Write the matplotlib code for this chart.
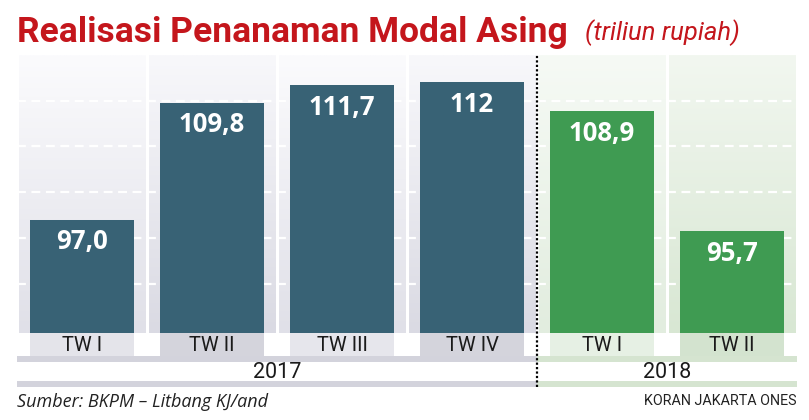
import numpy as np
import matplotlib
matplotlib.use("Agg")
import matplotlib.pyplot as plt
from matplotlib.patches import Rectangle
from matplotlib.lines import Line2D
from matplotlib.colors import LinearSegmentedColormap
from matplotlib.transforms import blended_transform_factory

# data
quarters = ["TW I", "TW II", "TW III", "TW IV", "TW I", "TW II"]
values = [97.0, 109.8, 111.7, 112.0, 108.9, 95.7]
value_labels = ["97,0", "109,8", "111,7", "112", "108,9", "95,7"]
years = ["2017", "2018"]
year_counts = [4, 2]

W, H = 809, 420
fig = plt.figure(figsize=(W / 100, H / 100), dpi=100)
fig.patch.set_facecolor("white")
renderer = fig.canvas.get_renderer()

def px_box(x0, y0, x1, y1):
    # pixel box (top-left origin) -> figure fraction
    return [x0 / W, 1 - y1 / H, (x1 - x0) / W, (y1 - y0) / H]

def fit_width(t, width_px):
    # scale font so the text is about width_px wide (no condensed fonts here)
    w = t.get_window_extent(renderer).width
    t.set_fontsize(t.get_fontsize() * width_px / w)

ymin, ymax = 84.6, 115
ax = fig.add_axes(px_box(17, 55, 797, 333))
ax.set_xlim(-0.5, 5.5)
ax.set_ylim(ymin, ymax)
ax.axis("off")

n = len(values)
is2018 = [i >= year_counts[0] for i in range(n)]

# panel backgrounds with vertical gradient
panel_cols = [("#FBFBFD", "#E0E0E8"), ("#F8F8FB", "#DADAE3"),
              ("#FBFBFD", "#E0E0E8"), ("#F8F8FB", "#DADAE3"),
              ("#F6FAF5", "#E2EDDF"), ("#F2F7F0", "#D8E7D3")]
grad = np.linspace(0, 1, 100).reshape(-1, 1)
for i in range(n):
    cmap = LinearSegmentedColormap.from_list("g", [panel_cols[i][0], panel_cols[i][1]])
    ax.imshow(grad, cmap=cmap, aspect="auto", origin="upper",
              extent=[i - 0.488, i + 0.488, ymin, ymax], zorder=0)

# white dashed gridlines
for g in [90, 95, 100, 105, 110]:
    ax.axhline(g, color="white", lw=1.6, ls=(0, (4, 2.5)), zorder=1)

bar_colors = ["#386275" if not y else "#3F9B52" for y in is2018]
x = np.arange(n)
ax.bar(x, np.array(values) - ymin, bottom=ymin, width=0.805,
       color=bar_colors, zorder=2)

for xi, v, lab in zip(x, values, value_labels):
    ax.annotate(lab, (xi, v), xytext=(0, -16), textcoords="offset points",
                ha="center", va="center", color="white", fontsize=18.5,
                fontweight="bold", family="Open Sans", zorder=3)

# bottom strip: category labels and years
ax2 = fig.add_axes(px_box(17, 333, 797, 390), sharex=ax)
ax2.set_ylim(390, 333)
ax2.axis("off")

label_cols = ["#E4E4EA", "#D4D4DC", "#E6E6EC", "#D4D4DC", "#E6F0E4", "#D3E3CF"]
for i in range(n):
    ax2.add_patch(Rectangle((i - 0.4025, 333), 0.805, 23, color=label_cols[i], lw=0))
    ax2.text(i, 345.5, quarters[i], ha="center", va="center", fontsize=14.5,
             family="Roboto", color="#1a1a1a")

band_cols = ["#D3D3DC", "#D5E4D0"]
start = -0.5
for yr, cnt, bc in zip(years, year_counts, band_cols):
    end = start + cnt
    ax2.add_patch(Rectangle((start, 356), cnt, 6, color=bc, lw=0))
    ax2.add_patch(Rectangle((start, 381), cnt, 6, color=bc, lw=0))
    ax2.text((start + end) / 2, 372.5, yr, ha="center", va="center", fontsize=15.5,
             family="Roboto", color="#1a1a1a")
    start = end

# dotted divider between years
tr = blended_transform_factory(ax.transData, fig.transFigure)
fig.add_artist(Line2D([year_counts[0] - 0.5] * 2, [1 - 387 / H, 1 - 55 / H],
                      transform=tr, color="black", lw=1.6, ls=(0, (1, 1))))

# titles and notes
title = fig.text(17 / W, 1 - 42 / H, "Realisasi Penanaman Modal Asing", fontsize=26,
                 fontweight="bold", family="Roboto", color="#C4161C",
                 va="baseline")
fit_width(title, 551)
sub = fig.text(585 / W, 1 - 40 / H, "(triliun rupiah)", fontsize=16, style="italic",
               family="Roboto", color="#C4161C", va="baseline")
fit_width(sub, 155)
src = fig.text(17 / W, 1 - 402 / H, "Sumber: BKPM \u2013 Litbang KJ/and", fontsize=13,
               style="italic", family="Open Sans", color="#222222", va="center")
fit_width(src, 251)
brand = fig.text(797 / W, 1 - 401 / H, "KORAN JAKARTA ONES", fontsize=11,
                 family="Roboto", color="#222222", va="center", ha="right")
fit_width(brand, 152)

fig.savefig("out.png", dpi=100, facecolor="white")
